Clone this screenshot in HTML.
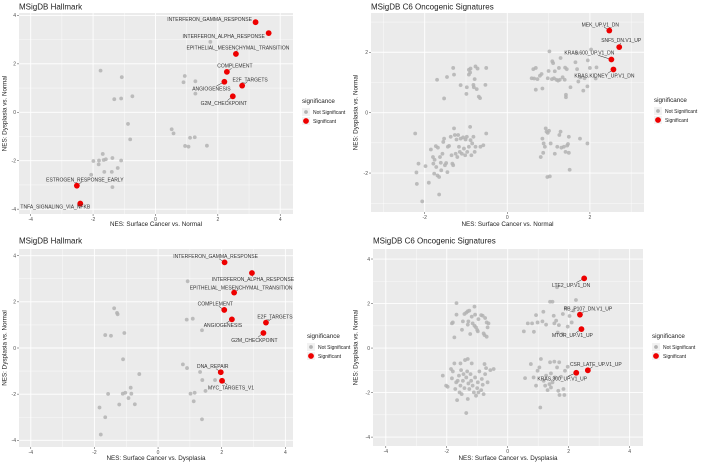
<!DOCTYPE html>
<html><head><meta charset="utf-8"><style>
html,body{margin:0;padding:0;background:#fff;width:702px;height:468px;overflow:hidden}
svg{position:absolute;font-family:"Liberation Sans",sans-serif}
</style></head><body>
<div id="root"></div>
<script>
// ---- Panel 1: Hallmark, Surface Cancer vs Normal ----
const p1Gray=[[-1.76,1.72],[-1.08,1.45],[-1.32,0.54],[-1.10,0.57],[-0.74,0.66],[1.76,2.91],[0.94,1.50],[0.90,1.24],[1.28,1.28],[1.28,0.77],[-0.88,-0.48],[-0.81,-1.12],[0.52,-0.70],[0.58,-0.87],[1.11,-1.05],[1.26,-1.03],[0.95,-1.39],[1.06,-1.42],[1.65,-1.38],[-1.69,-1.72],[-1.99,-2.01],[-1.81,-1.99],[-1.66,-1.97],[-1.59,-1.94],[-1.38,-1.89],[-1.10,-1.99],[-1.82,-2.15],[-1.64,-2.46],[-1.40,-2.46],[-1.21,-2.30],[-2.06,-2.58],[-1.38,-3.09]];
const p1Red=[[3.21,3.72],[3.63,3.27],[2.58,2.41],[2.29,1.67],[2.21,1.26],[2.78,1.10],[2.48,0.66],[-2.52,-3.03],[-2.41,-3.77]];
const p1Labels=["INTERFERON_GAMMA_RESPONSE","INTERFERON_ALPHA_RESPONSE","EPITHELIAL_MESENCHYMAL_TRANSITION","COMPLEMENT","ANGIOGENESIS","E2F_TARGETS","G2M_CHECKPOINT","ESTROGEN_RESPONSE_EARLY","TNFA_SIGNALING_VIA_NFKB"];
const p1LabelOff=[[-46,-3],[-45,3],[2,-6],[8,-6],[-13,7],[8,-6],[-9,7],[8,-6],[-25,3]];
const p1Ticks=[-4,-2,0,2,4];
// ---- Panel 2: C6, Surface Cancer vs Normal ----
const p2Gray=[[-1.70,1.09],[-1.46,1.18],[-1.31,1.48],[-1.29,1.26],[-1.53,0.47],[-1.13,0.91],[-0.98,0.84],[-0.93,1.42],[-0.89,1.46],[-0.90,1.33],[-0.77,1.53],[-0.72,1.46],[-0.79,1.11],[-0.82,0.92],[-0.81,0.84],[-0.74,0.78],[-0.99,0.62],[-0.69,0.53],[-0.66,0.48],[-0.51,1.48],[-0.53,0.92],[-0.93,1.26],
[0.63,1.44],[0.69,1.48],[0.59,1.14],[0.65,1.13],[0.73,1.11],[0.79,1.22],[0.83,1.28],[0.69,0.76],[0.85,0.80],[1.02,2.03],[1.09,1.70],[1.11,1.64],[1.00,1.38],[0.98,1.14],[1.13,1.14],[1.19,1.09],[1.23,1.06],[1.27,1.09],[1.29,1.81],[1.34,1.17],[1.15,1.37],[1.25,1.48],[1.40,1.49],[1.44,1.44],[1.42,0.59],[1.42,0.51],[1.39,1.09],[1.68,1.98],[1.65,1.67],[1.69,1.44],[1.72,1.03],[1.77,1.17],[1.84,0.73],[1.94,0.87],[1.87,1.14],[2.00,1.48],[2.03,2.09],[2.16,1.50],[2.14,1.13],[1.95,1.73],[1.53,0.84],[1.08,1.11],
[-2.23,-0.69],[-2.20,-1.98],[-2.19,-2.36],[-2.15,-1.69],[-2.06,-2.94],[-1.98,-1.77],[-1.90,-2.32],[-1.85,-1.22],[-1.80,-1.47],[-1.79,-1.69],[-1.77,-2.02],[-1.76,-1.56],[-1.73,-1.11],[-1.72,-1.80],[-1.69,-2.08],[-1.68,-1.16],[-1.65,-2.13],[-1.65,-2.71],[-1.63,-1.47],[-1.61,-1.66],[-1.60,-1.91],[-1.57,-1.36],[-1.55,-0.97],[-1.53,-0.86],[-1.51,-1.74],[-1.48,-1.67],[-1.45,-1.97],[-1.44,-1.13],[-1.41,-1.10],[-1.37,-0.80],[-1.35,-1.41],[-1.33,-1.69],[-1.31,-1.74],[-1.29,-0.52],[-1.27,-0.74],[-1.25,-1.36],[-1.23,-0.89],[-1.21,-1.47],[-1.19,-0.74],[-1.17,-1.13],[-1.15,-1.30],[-1.13,-0.86],[-1.10,-1.36],[-1.07,-0.82],[-1.05,-1.19],[-1.02,-1.41],[-1.01,-0.89],[-0.98,-0.80],[-0.97,-1.30],[-0.93,-1.13],[-0.90,-0.47],[-0.89,-0.91],[-0.87,-1.41],[-0.85,-1.02],[-0.82,-0.80],[-0.79,-1.30],[-0.77,-1.13],[-0.65,-1.13],[-0.58,-1.08],[-0.51,-0.69],
[0.81,-1.47],[0.85,-0.86],[0.88,-1.02],[0.87,-1.33],[0.91,-1.13],[0.93,-0.52],[0.95,-0.63],[0.97,-2.13],[0.98,-0.67],[1.03,-2.11],[1.05,-1.02],[1.15,-1.36],[1.21,-1.13],[1.26,-0.74],[1.29,-0.63],[1.31,-1.16],[1.37,-1.13],[1.41,-1.30],[1.45,-1.09],[1.47,-1.04],[1.49,-0.80],[1.49,-1.33],[1.51,-1.89],[1.76,-0.86],[1.94,-1.02],[1.01,-0.60]];
const p2Red=[[2.47,2.72],[2.71,2.17],[2.52,1.76],[2.57,1.43]];
const p2Labels=["MEK_UP.V1_DN","SNF5_DN.V1_UP","KRAS.600_UP.V1_DN","KRAS.KIDNEY_UP.V1_DN"];
const p2LabelOff=[[-9,-6],[2,-7],[-22,-7],[-9,6]];
const p2Ticks=[-2,0,2];
// ---- Panel 3: Hallmark, Surface Cancer vs Dysplasia ----
const p3Gray=[[-1.38,1.72],[-1.29,1.52],[-1.27,1.46],[-1.66,0.56],[-1.48,0.53],[-1.06,0.65],[-1.10,-0.49],[-0.59,-1.13],[0.93,2.89],[0.90,1.23],[1.09,1.27],[1.38,0.77],[0.78,-0.71],[0.91,-0.87],[1.32,-1.04],[1.39,-1.39],[1.79,-1.39],[1.49,-1.86],[1.02,-1.98],[1.15,-1.94],[1.12,-2.31],[1.38,-3.09],[-1.57,-1.99],[-1.11,-1.98],[-1.03,-1.94],[-0.86,-1.72],[-0.84,-1.98],[-0.93,-2.17],[-1.22,-2.45],[-0.73,-2.44],[-1.84,-2.58],[-1.66,-3.00],[-1.80,-3.75]];
const p3Red=[[2.09,3.71],[2.95,3.25],[2.39,2.40],[2.08,1.65],[2.32,1.24],[3.39,1.10],[3.31,0.65],[1.97,-1.05],[2.01,-1.42]];
const p3Labels=["INTERFERON_GAMMA_RESPONSE","INTERFERON_ALPHA_RESPONSE","EPITHELIAL_MESENCHYMAL_TRANSITION","COMPLEMENT","ANGIOGENESIS","E2F_TARGETS","G2M_CHECKPOINT","DNA_REPAIR","MYC_TARGETS_V1"];
const p3LabelOff=[[-9,-6],[1,6],[7,-5],[-9,-6],[-9,6],[9,-6],[-9,7],[-8,-6],[9,7]];
const p3Ticks=[-4,-2,0,2,4];
// ---- Panel 4: C6, Surface Cancer vs Dysplasia ----
const p4Gray=[[-1.68,2.02],[-1.83,1.11],[-1.80,1.15],[-1.68,1.50],[-1.50,0.82],[-1.47,1.20],[-1.42,1.53],[-1.36,1.59],[-1.31,1.65],[-1.26,1.68],[-1.29,1.20],[-1.23,0.63],[-1.18,1.41],[-1.09,1.86],[-1.07,1.50],[-1.15,1.11],[-1.04,0.93],[-1.00,0.81],[-0.98,0.75],[-0.96,1.30],[-0.87,1.48],[-0.82,1.45],[-0.79,0.66],[-0.74,1.35],[-0.69,1.15],[-0.66,0.93],[-0.63,1.11],[-0.76,0.58],[-0.69,0.51],[-1.75,0.48],[-1.31,1.05],[-1.09,1.00],
[0.53,0.75],[0.66,1.11],[0.80,1.11],[0.86,0.73],[0.93,1.48],[0.98,1.15],[1.17,1.63],[1.14,1.20],[1.26,1.05],[1.39,2.08],[1.47,2.08],[1.51,1.45],[1.53,1.11],[1.59,1.23],[1.68,1.03],[1.64,0.70],[1.81,1.53],[1.91,1.80],[2.03,1.44],[2.10,1.15],[2.16,1.68],[2.24,2.16],[1.97,0.96],[1.62,2.73],[1.80,0.63],
[-2.13,-1.24],[-2.02,-1.69],[-1.97,-1.74],[-1.86,-0.94],[-1.83,-1.36],[-1.80,-1.05],[-1.75,-0.69],[-1.72,-1.84],[-1.69,-1.54],[-1.66,-2.34],[-1.64,-1.47],[-1.60,-1.24],[-1.58,-1.99],[-1.55,-1.69],[-1.53,-0.99],[-1.51,-2.07],[-1.47,-1.47],[-1.45,-1.17],[-1.42,-1.80],[-1.40,-0.54],[-1.36,-2.92],[-1.36,-1.32],[-1.33,-1.05],[-1.31,-2.29],[-1.29,-1.59],[-1.26,-1.84],[-1.22,-1.17],[-1.20,-1.47],[-1.18,-0.69],[-1.15,-1.69],[-1.11,-1.99],[-1.07,-1.32],[-1.04,-2.14],[-1.00,-1.80],[-0.98,-1.54],[-0.96,-1.99],[-0.93,-1.05],[-0.87,-1.89],[-0.85,-1.39],[-0.82,-1.65],[-0.79,-2.07],[-0.76,-0.72],[-0.74,-1.17],[-0.71,-0.90],[-0.66,-1.54],[-0.57,-0.99],[-0.46,-0.94],[-1.31,-0.49],[-1.55,-0.69],
[0.57,-1.35],[0.76,-0.72],[0.85,-1.32],[0.98,-1.02],[1.04,-0.87],[1.09,-0.49],[1.18,-1.47],[1.23,-1.69],[1.26,-1.24],[1.31,-1.89],[1.37,-1.62],[1.39,-0.64],[1.42,-1.14],[1.47,-1.54],[1.53,-0.61],[1.55,-1.32],[1.62,-0.87],[1.66,-1.92],[1.69,-0.64],[1.70,-2.11],[1.75,-1.29],[1.83,-1.84],[1.86,-2.11],[1.88,-1.02],[1.97,-0.84],[1.07,-2.67],[1.42,-1.77],[0.93,-1.69]];
const p4Red=[[2.51,3.13],[2.37,1.50],[2.42,0.85],[2.63,-1.00],[2.25,-1.11]];
const p4Labels=["LTE2_UP.V1_DN","RB_P107_DN.V1_UP","MTOR_UP.V1_UP","CSR_LATE_UP.V1_UP","KRAS.300_UP.V1_UP"];
const p4LabelOff=[[-13,7],[8,-6],[-9,6],[8,-6],[-14,6]];
const p4Ticks=[-4,-2,0,2,4];

const panels=[
 {name:"hallmark-cancer-vs-normal",ox:0,oy:0,title:"MSigDB Hallmark",xt:"NES: Surface Cancer vs. Normal",rect:[19,13,293,214],xd:[-4.375,4.41],yd:[-4.20,4.10],xt_:p1Ticks,yt_:p1Ticks,gray:p1Gray,red:p1Red,labels:p1Labels,off:p1LabelOff,leg:[302,103]},
 {name:"c6-cancer-vs-normal",ox:351,oy:0,title:"MSigDB C6 Oncogenic Signatures",xt:"NES: Surface Cancer vs. Normal",rect:[20,13,293,212],xd:[-3.30,3.31],yd:[-3.29,3.30],xt_:p2Ticks,yt_:p2Ticks,gray:p2Gray,red:p2Red,labels:p2Labels,off:p2LabelOff,leg:[303,102]},
 {name:"hallmark-cancer-vs-dysplasia",ox:0,oy:234,title:"MSigDB Hallmark",xt:"NES: Surface Cancer vs. Dysplasia",rect:[19,15,293,213],xd:[-4.37,4.24],yd:[-4.29,4.29],xt_:p3Ticks,yt_:p3Ticks,gray:p3Gray,red:p3Red,labels:p3Labels,off:p3LabelOff,leg:[307,104]},
 {name:"c6-cancer-vs-dysplasia",ox:351,oy:234,title:"MSigDB C6 Oncogenic Signatures",xt:"NES: Surface Cancer vs. Dysplasia",rect:[22,15,292,212],xd:[-4.42,4.44],yd:[-4.40,4.45],xt_:p4Ticks,yt_:p4Ticks,gray:p4Gray,red:p4Red,labels:p4Labels,off:p4LabelOff,leg:[301,104]}
];
const NS="http://www.w3.org/2000/svg";
function mk(tag,attrs,parent){const e=document.createElementNS(NS,tag);for(const k in attrs)e.setAttribute(k,attrs[k]);parent.appendChild(e);return e;}
const root=document.getElementById('root');
panels.forEach(p=>{
 const svg=mk('svg',{width:351,height:234,style:`left:${p.ox}px;top:${p.oy}px`},root);
 
 
 const [L,T,R,B]=p.rect;
 const sx=v=>L+(v-p.xd[0])/(p.xd[1]-p.xd[0])*(R-L);
 const sy=v=>B-(v-p.yd[0])/(p.yd[1]-p.yd[0])*(B-T);
 const bg=mk('rect',{x:L,y:T,width:R-L,height:B-T,fill:'#ebebeb'},svg);
 
 
 const step=p.xt_[1]-p.xt_[0];
 // minor grid
 for(let v=p.xt_[0]-step/2;v<=p.xt_[p.xt_.length-1]+step/2;v+=step){const x=sx(v);if(x>L&&x<R)mk('line',{x1:x,x2:x,y1:T,y2:B,stroke:'#fff','stroke-width':0.4},svg);}
 for(let v=p.yt_[0]-step/2;v<=p.yt_[p.yt_.length-1]+step/2;v+=step){const y=sy(v);if(y>T&&y<B)mk('line',{x1:L,x2:R,y1:y,y2:y,stroke:'#fff','stroke-width':0.4},svg);}
 p.xt_.forEach(v=>{const x=sx(v);mk('line',{x1:x,x2:x,y1:T,y2:B,stroke:'#fff','stroke-width':0.9},svg);mk('line',{x1:x,x2:x,y1:B,y2:B+2,stroke:'#444','stroke-width':0.5},svg);
  const t=mk('text',{x:x,y:B+7,'font-size':5,fill:'#4d4d4d','text-anchor':'middle'},svg);t.textContent=v;
  });
 p.yt_.forEach(v=>{const y=sy(v);mk('line',{x1:L,x2:R,y1:y,y2:y,stroke:'#fff','stroke-width':0.9},svg);mk('line',{x1:L-2,x2:L,y1:y,y2:y,stroke:'#444','stroke-width':0.5},svg);
  const t=mk('text',{x:L-3,y:y+1.8,'font-size':5,fill:'#4d4d4d','text-anchor':'end'},svg);t.textContent=v;
  });
 p.gray.forEach(d=>{const c=mk('circle',{cx:sx(d[0]),cy:sy(d[1]),r:1.9,fill:'#b3b3b3','fill-opacity':0.85},svg);
  });
 p.red.forEach((d,i)=>{const x=sx(d[0]),y=sy(d[1]);const o=p.off[i];
  if(Math.abs(o[1])>=5)mk('line',{x1:x,y1:y,x2:x+o[0]*0.6,y2:y+o[1]*0.6,stroke:'#222','stroke-width':0.5},svg);
  const c=mk('circle',{cx:x,cy:y,r:2.9,fill:'#ee0000'},svg);
  
  const t=mk('text',{x:x+o[0],y:y+o[1]+1.8,'font-size':5,fill:'#333','text-anchor':'middle'},svg);t.textContent=p.labels[i];
  });
 const tt=mk('text',{x:L,y:9.5,'font-size':8,fill:'#222'},svg);tt.textContent=p.title;
 
 const xa=mk('text',{x:(L+R)/2,y:226,'font-size':6.3,fill:'#222','text-anchor':'middle'},svg);xa.textContent=p.xt;
 
 const cy=(T+B)/2;
 const ya=mk('text',{x:6.5,y:cy,'font-size':6.3,fill:'#222','text-anchor':'middle',transform:`rotate(-90 6.5 ${cy})`},svg);ya.textContent="NES: Dysplasia vs. Normal";
 
 const [lx,ly]=p.leg;
 const g=mk('g',{},svg);
 const lt=mk('text',{x:lx,y:ly,'font-size':6.3,fill:'#222'},g);lt.textContent="significance";
 mk('rect',{x:lx,y:ly+5,width:8,height:8,fill:'#f2f2f2'},g);
 mk('circle',{cx:lx+4,cy:ly+9,r:1.9,fill:'#b3b3b3'},g);
 const t1=mk('text',{x:lx+11,y:ly+10.8,'font-size':5,fill:'#222'},g);t1.textContent="Not Significant";
 
 mk('rect',{x:lx,y:ly+14,width:8,height:8,fill:'#f2f2f2'},g);
 mk('circle',{cx:lx+4,cy:ly+18,r:2.9,fill:'#ee0000'},g);
 const t2=mk('text',{x:lx+11,y:ly+19.8,'font-size':5,fill:'#222'},g);t2.textContent="Significant";
 
});
</script>
</body></html>
